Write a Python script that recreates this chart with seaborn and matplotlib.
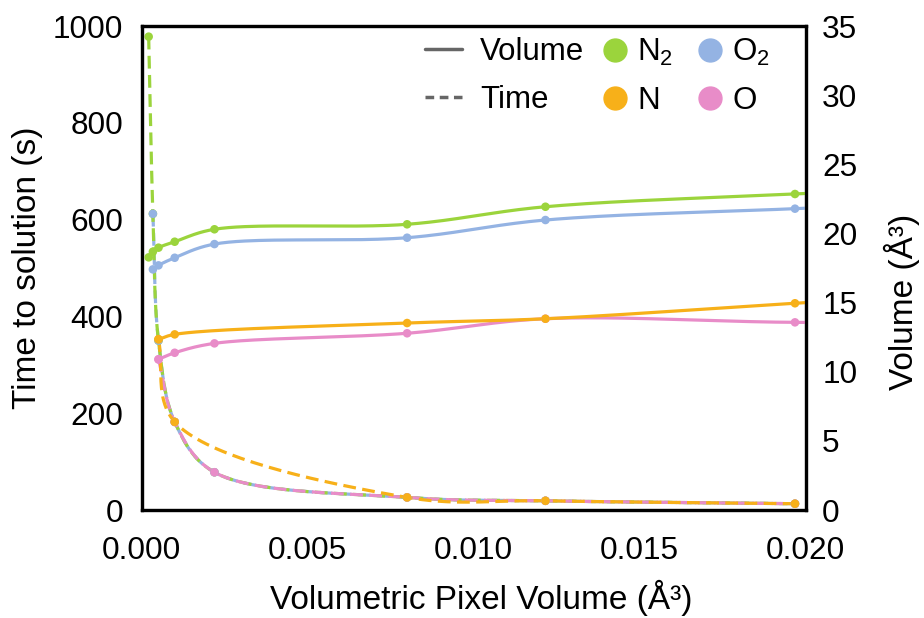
import numpy as np
import pandas as pd
import matplotlib
matplotlib.use("Agg")
import matplotlib.pyplot as plt
import seaborn as sns
from matplotlib.lines import Line2D

# ---------------- data ----------------
# voxel volumes (Å^3)
n2_x = [0.000216, 0.000343, 0.000512, 0.001, 0.002197, 0.008, 0.012167, 0.019683]
o2_x = [0.000343, 0.000512, 0.001, 0.002197, 0.008, 0.012167, 0.019683]
n_x = [0.000512, 0.001, 0.008, 0.012167, 0.019683]
o_x = [0.000512, 0.001, 0.002197, 0.008, 0.012167, 0.019683]

# the volume curves run on past the right edge of the plot: one more (clipped) point each
vol_extra_x = 0.027
n2_vol = [18.27, 18.68, 18.97, 19.40, 20.30, 20.66, 21.93, 22.85]
o2_vol = [17.40, 17.69, 18.24, 19.23, 19.69, 20.97, 21.79]
n_vol = [12.34, 12.70, 13.52, 13.83, 14.95]
o_vol = [10.90, 11.37, 12.05, 12.78, 13.83, 13.57]
vol_extra = {"N2": 23.6, "O2": 22.5, "N": 16.0, "O": 13.6}

# time to solution (s)
n2_time = [978, 612, 350, 182, 78, 26, 19, 13]
o2_time = [612, 350, 182, 78, 26, 19, 13]
n_time = [353, 182, 26, 19, 13]
o_time = [311, 182, 78, 26, 19, 13]

species = ["N2", "O2", "N", "O"]
labels = {"N2": "N$_2$", "O2": "O$_2$", "N": "N", "O": "O"}
colors = {"N2": "#9bd43c", "O2": "#94b3e3", "N": "#f7b019", "O": "#e88cc8"}

xs = {"N2": n2_x, "O2": o2_x, "N": n_x, "O": o_x}
vols = {"N2": n2_vol, "O2": o2_vol, "N": n_vol, "O": o_vol}
times = {"N2": n2_time, "O2": o2_time, "N": n_time, "O": o_time}

# approximate pixel scale of each axis (for the curve parametrisation only)
PX_X = 664 / 0.020
PX_T = 484 / 1000
PX_V = 484 / 35


def smooth(x, y, sy, n=40):
    """Smoothed line through the points (centripetal Catmull-Rom in screen space)."""
    P = np.column_stack([np.asarray(x, float) * PX_X, np.asarray(y, float) * sy])
    P = np.vstack([2 * P[0] - P[1], P, 2 * P[-1] - P[-2]])
    out = []
    for i in range(1, len(P) - 2):
        p0, p1, p2, p3 = P[i - 1], P[i], P[i + 1], P[i + 2]
        t0 = 0.0
        t1 = t0 + max(np.linalg.norm(p1 - p0), 1e-9) ** 0.5
        t2 = t1 + max(np.linalg.norm(p2 - p1), 1e-9) ** 0.5
        t3 = t2 + max(np.linalg.norm(p3 - p2), 1e-9) ** 0.5
        t = np.linspace(t1, t2, n)[:, None]
        a1 = (t1 - t) / (t1 - t0) * p0 + (t - t0) / (t1 - t0) * p1
        a2 = (t2 - t) / (t2 - t1) * p1 + (t - t1) / (t2 - t1) * p2
        a3 = (t3 - t) / (t3 - t2) * p2 + (t - t2) / (t3 - t2) * p3
        b1 = (t2 - t) / (t2 - t0) * a1 + (t - t0) / (t2 - t0) * a2
        b2 = (t3 - t) / (t3 - t1) * a2 + (t - t1) / (t3 - t1) * a3
        c = (t2 - t) / (t2 - t1) * b1 + (t - t1) / (t2 - t1) * b2
        out.append(c if i == 1 else c[1:])
    s = np.vstack(out)
    return pd.DataFrame({"x": s[:, 0] / PX_X, "y": s[:, 1] / sy})


# ---------------- style ----------------
sns.set_theme(style="white")
plt.rcParams["font.family"] = ["Liberation Sans", "DejaVu Sans"]
plt.rcParams["mathtext.fontset"] = "custom"
plt.rcParams["mathtext.rm"] = "Liberation Sans"
plt.rcParams["mathtext.it"] = "Liberation Sans:italic"
plt.rcParams["mathtext.bf"] = "Liberation Sans:bold"
plt.rcParams["text.color"] = "black"
plt.rcParams["axes.labelcolor"] = "black"

fig = plt.figure(figsize=(9.24, 6.18), dpi=100)
ax = fig.add_axes([141.5 / 924, 1 - 510 / 618, 664 / 924, 484 / 618])
ax2 = ax.twinx()

LW = 2.3
DASH = (0, (4.0, 2.0))

# time (dashed) on left axis
for sp in ["O2", "N2", "O", "N"]:
    d = smooth(xs[sp], times[sp], PX_T)
    sns.lineplot(data=d, x="x", y="y", ax=ax, color=colors[sp], lw=LW,
                 linestyle=DASH, sort=False, estimator=None, legend=False)
for sp in ["N2", "O2", "O", "N"]:
    sns.scatterplot(x=xs[sp], y=times[sp], ax=ax, color=colors[sp], s=38,
                    edgecolor="none", legend=False, zorder=5)

# volume (solid) on right axis
for sp in ["N2", "O2", "O", "N"]:
    d = smooth(list(xs[sp]) + [vol_extra_x], list(vols[sp]) + [vol_extra[sp]], PX_V)
    sns.lineplot(data=d, x="x", y="y", ax=ax2, color=colors[sp], lw=LW,
                 sort=False, estimator=None, legend=False)
for sp in ["N2", "O2", "O", "N"]:
    sns.scatterplot(x=xs[sp], y=vols[sp], ax=ax2, color=colors[sp], s=38,
                    edgecolor="none", legend=False, zorder=5)

# ---------------- axes ----------------
ax.set_xlim(0, 0.020)
ax.set_ylim(0, 1000)
ax2.set_ylim(0, 35)
ax.set_xticks([0, 0.005, 0.010, 0.015, 0.020])
ax.set_xticklabels(["0.000", "0.005", "0.010", "0.015", "0.020"])
ax.set_yticks(range(0, 1001, 200))
ax2.set_yticks(range(0, 36, 5))

TS = 22.7
ax.tick_params(axis="x", length=0, pad=19, labelsize=TS, colors="black")
ax.tick_params(axis="y", length=0, pad=13, labelsize=TS, colors="black")
ax2.tick_params(axis="y", length=0, pad=12, labelsize=TS, colors="black")

LS = 24
ax.set_xlabel("Volumetric Pixel Volume (Å³)", fontsize=LS)
ax.set_ylabel("Time to solution (s)", fontsize=LS, labelpad=7)
ax2.set_ylabel("Volume (Å³)", fontsize=LS, rotation=90)
ax.xaxis.set_label_coords(0.512, -0.145)
ax2.yaxis.set_label_coords((884 - 141.5) / 664, (510 - 302) / 484)

for a in (ax, ax2):
    for s in a.spines.values():
        s.set_color("black")
        s.set_linewidth(2.3)
ax.grid(False)
ax2.grid(False)

# ---------------- legends ----------------
FS = 22.5
h1 = [Line2D([], [], color="#666666", lw=2.5),
      Line2D([], [], color="#666666", lw=2.5, linestyle=(0, (2.5, 1.6)))]
leg1 = ax2.legend(h1, ["Volume", "Time"], loc="upper left",
                  bbox_to_anchor=(425 / 924, 1 - 37 / 618), bbox_transform=fig.transFigure,
                  frameon=False, fontsize=FS, handlelength=1.18, handletextpad=0.58,
                  labelspacing=0.58, borderpad=0, borderaxespad=0)
ax2.add_artist(leg1)

order = ["N2", "N", "O2", "O"]
h2 = [Line2D([], [], color=colors[sp], marker="o", markersize=16.5, linestyle="none")
      for sp in order]
leg2 = ax2.legend(h2, [labels[sp] for sp in order], loc="upper left", ncol=2,
                  bbox_to_anchor=(602.5 / 924, 1 - 37 / 618), bbox_transform=fig.transFigure,
                  frameon=False, fontsize=FS, handlelength=0.8, handletextpad=0.31,
                  labelspacing=0.58, columnspacing=0.78, borderpad=0, borderaxespad=0)

fig.savefig("out.png", dpi=100)
